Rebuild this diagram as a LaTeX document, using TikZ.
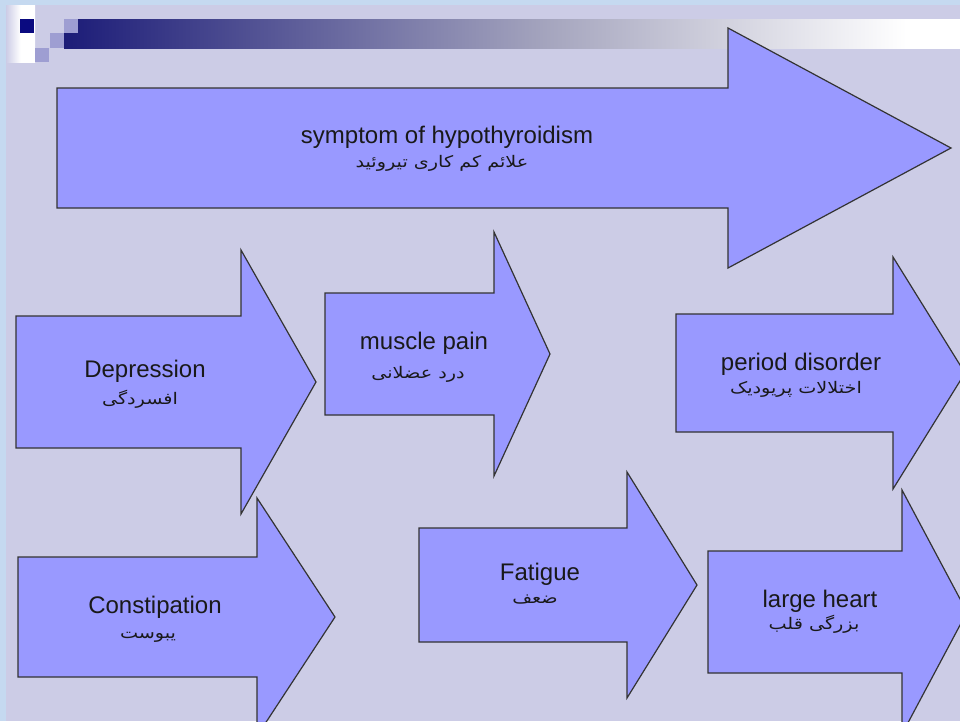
\documentclass[tikz,border=0pt]{standalone}
\usepackage{fontspec}
\setmainfont{Liberation Sans}
\newfontfamily\arabicfont[Script=Arabic,FakeStretch=1.2]{DejaVu Sans}
\TeXXeTstate=1
\definecolor{slidebg}{RGB}{204,204,230}
\definecolor{frameblue}{RGB}{197,217,240}
\definecolor{arrowfill}{RGB}{153,153,255}
\definecolor{navy}{RGB}{10,10,128}
\definecolor{barnavy}{RGB}{28,28,120}
\definecolor{pixel}{RGB}{158,158,210}
\definecolor{barmid}{RGB}{165,165,190}
% TikZ maps the path onto the 25bp--75bp part of a shading
\pgfdeclarehorizontalshading{titlebar}{100bp}{%
  color(0bp)=(barnavy); color(25bp)=(barnavy); color(52bp)=(barmid);
  color(72bp)=(white); color(100bp)=(white)}
\pgfdeclarehorizontalshading{sidestrip}{100bp}{%
  color(0bp)=(slidebg); color(25bp)=(slidebg); color(50bp)=(white); color(100bp)=(white)}
\tikzset{
  arrowbody/.style={fill=arrowfill, draw=black!80, line width=0.9pt, line join=miter},
  en/.style={font=\fontsize{18}{20}\selectfont, anchor=base, inner sep=0pt, text=black!90},
  fa/.style={font=\arabicfont\fontsize{12}{14}\selectfont, anchor=base, inner sep=0pt, text=black!90},
}
% block arrow: name, left x, head x, tip x, centre y, shaft half-height, head half-height
\newcommand\blockarrow[7]{%
  \draw[arrowbody] (#2,#5-#6) -- (#3,#5-#6) -- (#3,#5-#7) -- (#4,#5)
    -- (#3,#5+#7) -- (#3,#5+#6) -- (#2,#5+#6) -- cycle;
  \coordinate (#1) at (#4,#5);}
\begin{document}
\begin{tikzpicture}[x=0.75pt,y=-0.75pt]
\useasboundingbox (0,0) rectangle (960,721);
% slide background and frame
\fill[slidebg] (0,0) rectangle (960,721);
\fill[frameblue] (0,0) rectangle (960,5);
\fill[frameblue] (0,0) rectangle (6,721);
% title decoration
\shade[shading=sidestrip] (6,5) rectangle (35,62);
\shade[shading=titlebar] (64,19) rectangle (960,48);
\fill[navy] (20,19) rectangle (34,33);
\fill[pixel] (64,19) rectangle (78,33);
\fill[pixel] (50,33) rectangle (64,48);
\fill[pixel] (35,48) rectangle (49,62);
% arrows
\blockarrow{hypo}{57}{728}{951}{148}{60}{120}
\blockarrow{depr}{16}{241}{316}{382}{66}{132}
\blockarrow{musc}{325}{494}{550}{354}{61}{122}
\blockarrow{peri}{676}{893}{965}{373}{59}{116}
\blockarrow{cons}{18}{257}{335}{617}{60}{119}
\blockarrow{fati}{419}{627}{697}{585}{57}{113}
\blockarrow{hear}{708}{902}{967}{612}{61}{122}
% labels
\node[en] (hypo-en) at (447,143) {symptom of hypothyroidism};
\node[fa] (hypo-fa) at (442,167) {\beginR علائم کم کاری تیروئید\endR};
\node[en] (depr-en) at (145,377) {Depression};
\node[fa] (depr-fa) at (140,404) {\beginR افسردگی\endR};
\node[en] (musc-en) at (424,349) {muscle pain};
\node[fa] (musc-fa) at (418,378) {\beginR درد عضلانی\endR};
\node[fa] (peri-fa) at (796,393) {\beginR اختلالات پریودیک\endR};
\node[en] (peri-en) at (801,370) {period disorder};
\node[en] (cons-en) at (155,613) {Constipation};
\node[fa] (cons-fa) at (148,638) {\beginR یبوست\endR};
\node[en] (fati-en) at (540,580) {Fatigue};
\node[fa] (fati-fa) at (535,603) {\beginR ضعف\endR};
\node[en] (hear-en) at (820,607) {large heart};
\node[fa] (hear-fa) at (814,629) {\beginR بزرگی قلب\endR};
\end{tikzpicture}
\end{document}
